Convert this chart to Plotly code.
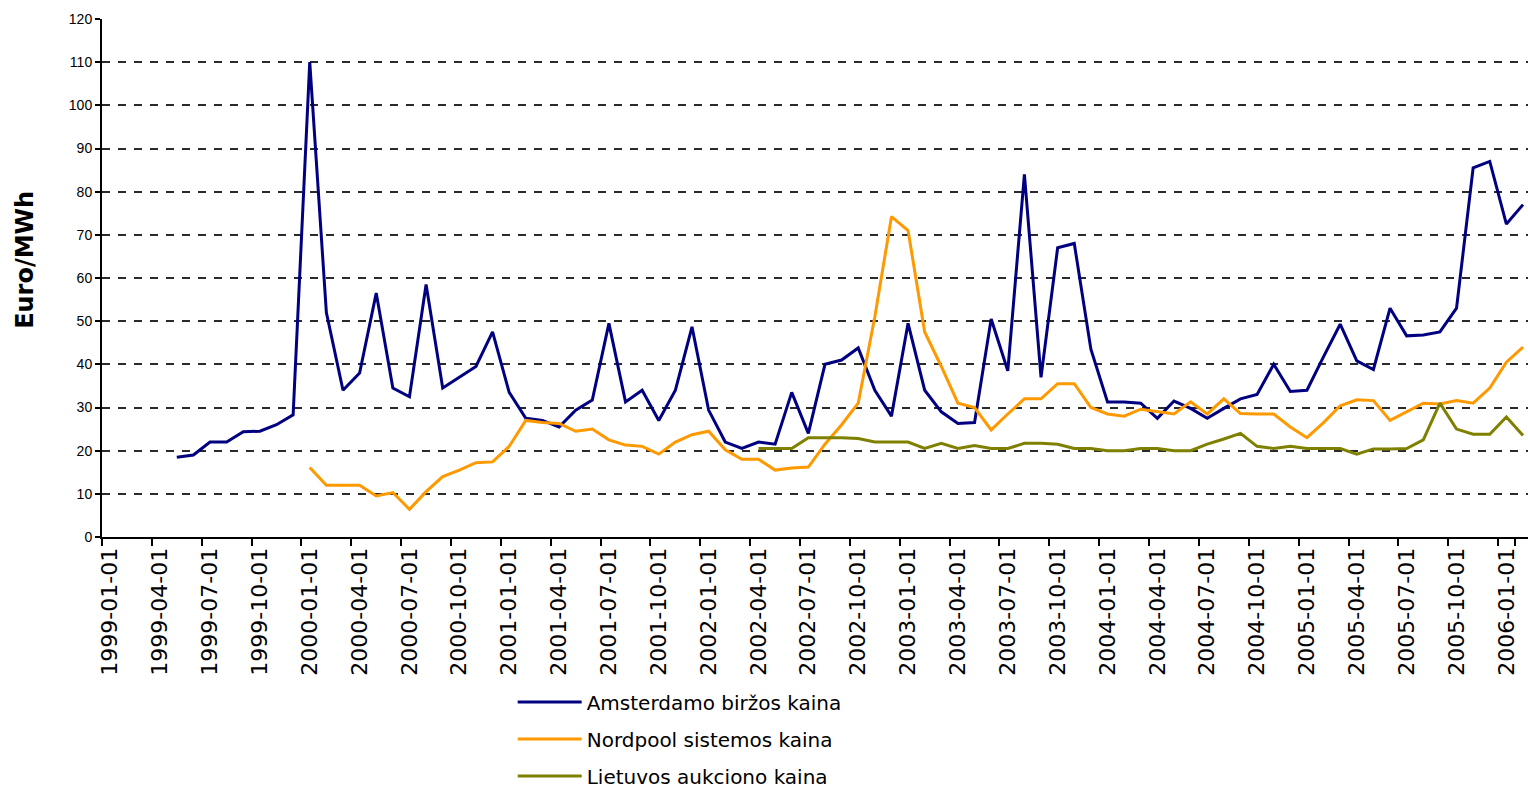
import plotly.graph_objects as go

# Monthly categories 1999-01 .. 2006-02
months = [f"{y}-{m:02d}-01" for y in range(1999, 2007) for m in range(1, 13)][:86]
tick_labels = months[::3]
y_ticks = [0, 10, 20, 30, 40, 50, 60, 70, 80, 90, 100, 110, 120]

amsterdam = [None, None, None, None,
             18.5, 19, 22, 22, 24.4, 24.5, 26, 28.3,
             110, 52, 34, 38, 56.5, 34.5, 32.5, 58.5, 34.5, 37, 39.5, 47.5,
             33.5, 27.5, 27, 25.5, 29.4, 31.7, 49.5, 31.3, 34, 27, 34, 48.7,
             29.4, 22, 20.5, 22, 21.5, 33.5, 24, 40, 41, 43.8, 34, 28,
             49.5, 34, 29, 26.3, 26.5, 50.5, 38.5, 84, 37, 67, 68, 43.5,
             31.3, 31.3, 31, 27.5, 31.5, 29.8, 27.5, 29.8, 32, 33, 40, 33.7,
             34, 41.8, 49.3, 40.8, 38.8, 53, 46.6, 46.8, 47.5, 53, 85.5, 87,
             72.5, 77]

nordpool = [None] * 12 + [
    16.1, 12, 12, 12, 9.5, 10.3, 6.4, 10.5, 14, 15.5, 17.2, 17.4,
    21, 27, 26.5, 26.3, 24.5, 25, 22.5, 21.3, 21, 19.2, 22, 23.7,
    24.5, 20.2, 18, 18, 15.5, 16, 16.2, 21.5, 26, 31, 51, 74.2,
    71, 47.5, 39.5, 31, 30, 24.8, 28.5, 32, 32, 35.5, 35.5, 30,
    28.5, 28, 29.6, 29, 28.5, 31.3, 28.5, 32, 28.6, 28.5, 28.5, 25.5,
    23, 26.5, 30.4, 31.8, 31.6, 27, 29, 31, 30.8, 31.6, 31, 34.5,
    40.5, 44]

lietuva = [None] * 39 + [
    20.5, 20.5, 20.5, 23, 23, 23, 22.8, 22, 22,
    22, 20.5, 21.7, 20.5, 21.2, 20.5, 20.5, 21.7, 21.7, 21.5, 20.5, 20.5,
    20, 20, 20.5, 20.5, 20, 20, 21.5, 22.7, 24, 21, 20.5, 21,
    20.5, 20.5, 20.5, 19.2, 20.4, 20.4, 20.5, 22.5, 31, 25, 23.8, 23.8,
    27.8, 23.5]

series = [
    ("Amsterdamo biržos kaina", amsterdam, "#000080"),
    ("Nordpool sistemos kaina", nordpool, "#FF9900"),
    ("Lietuvos aukciono kaina", lietuva, "#808000"),
]

fig = go.Figure()
for i, (name, vals, col) in enumerate(series):
    fig.add_trace(go.Scatter(x=months, y=vals, name=name, mode="lines",
                             line=dict(color=col, width=3),
                             legendgroup=f"g{i}", connectgaps=False))

fig.add_annotation(text="<b>Euro/MWh</b>", xref="paper", yref="paper",
                   x=-0.054, y=0.535, xanchor="center", yanchor="middle",
                   textangle=-90, showarrow=False,
                   font=dict(family="DejaVu Sans", size=24, color="black"))

fig.update_layout(
    width=1528, height=788, autosize=False,
    margin=dict(l=102, r=0, t=19, b=251),
    plot_bgcolor="white", paper_bgcolor="white",
    font=dict(family="DejaVu Sans", color="black"),
    showlegend=True,
    legend=dict(orientation="v", xref="paper", yref="container",
                x=0.288, y=0.134, xanchor="left", yanchor="top",
                font=dict(family="DejaVu Sans", size=20, color="black"),
                itemwidth=64, tracegroupgap=8, bgcolor="rgba(0,0,0,0)"),
    xaxis=dict(type="category", categoryorder="array", categoryarray=months,
               range=[-0.5, 85.3], tickmode="array", tickvals=tick_labels,
               ticktext=tick_labels, tickangle=-90, tickson="boundaries",
               ticks="outside", ticklen=7, tickwidth=2, tickcolor="black",
               showline=True, linewidth=2, linecolor="black", showgrid=False,
               tickfont=dict(family="DejaVu Sans", size=22, color="black"),
               automargin=False),
    yaxis=dict(range=[0, 120], tickmode="array", tickvals=y_ticks,
               ticks="outside", ticklen=5, tickwidth=2, tickcolor="black",
               showline=True, linewidth=2, linecolor="black",
               showgrid=True, gridcolor="#2a2a2a", gridwidth=2, griddash="8px,8px",
               zeroline=False,
               tickfont=dict(family="Liberation Sans", size=14, color="black"),
               automargin=False),
)

fig.write_html("out.html",
               config={"responsive": False, "displayModeBar": False},
               post_script="document.body.style.margin='0';"
                           "document.documentElement.style.overflow='hidden';")
